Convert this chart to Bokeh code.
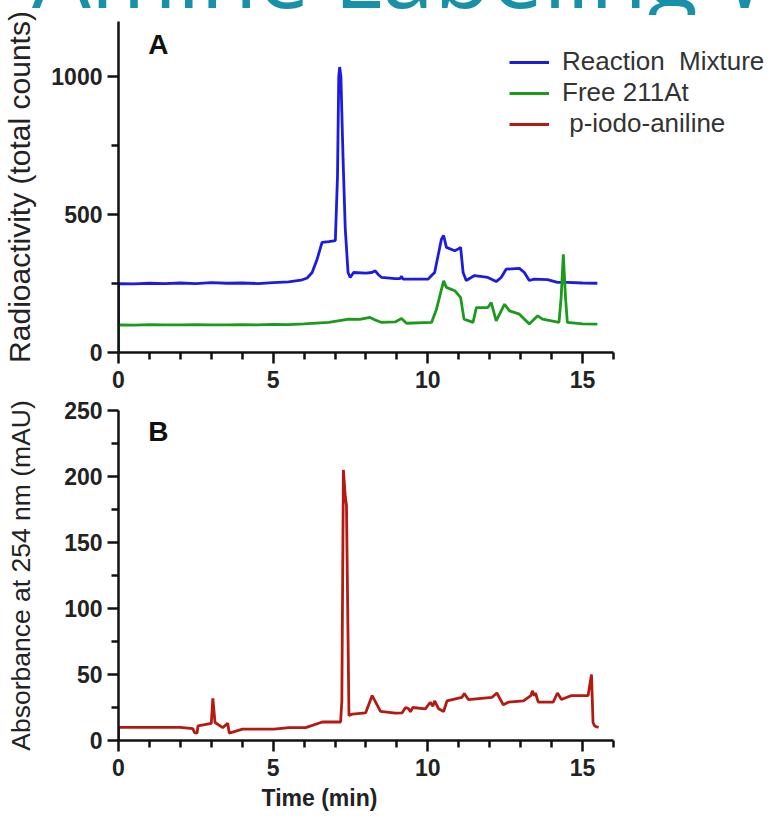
from bokeh.plotting import figure
from bokeh.layouts import column
from bokeh.models import Range1d, FixedTicker, Legend, LegendItem, Label, Div
from bokeh.embed import file_html
from bokeh.resources import INLINE

# ---------------- data ----------------
x_major = [0, 5, 10, 15]
x_minor = [1, 2, 3, 4, 6, 7, 8, 9, 11, 12, 13, 14, 16]

a_y_major = [0, 500, 1000]
a_y_minor = [250, 750]
b_y_major = [0, 50, 100, 150, 200, 250]
b_y_minor = [25, 75, 125, 175, 225]

# Panel A - Reaction Mixture (blue)
mix_time = [0, 0, 0.5, 1.0, 1.5, 2.0, 2.5, 3.0, 3.5, 4.0, 4.5, 5.0, 5.5, 5.9, 6.1,
            6.26, 6.42, 6.58, 6.8, 7.01, 7.08, 7.12, 7.15, 7.19, 7.26, 7.33, 7.42,
            7.49, 7.6, 8.0, 8.19, 8.3, 8.4, 8.51, 8.94, 9.1, 9.15, 9.2, 10.01, 10.12,
            10.22, 10.33, 10.44, 10.51, 10.6, 10.87, 10.98, 11.06, 11.14, 11.24, 11.51,
            11.94, 12.21, 12.37, 12.53, 12.96, 13.12, 13.28, 13.44, 13.87, 14.19, 14.51,
            15.0, 15.48]
mix_counts = [0, 250, 249, 251, 250, 252, 250, 253, 251, 252, 250, 253, 256, 262, 270,
              290, 338, 399, 402, 406, 641, 1000, 1035, 1000, 700, 450, 290,
              272, 290, 288, 290, 296, 282, 272, 268, 268, 276, 266, 266, 279,
              290, 351, 411, 424, 381, 369, 375, 381, 290, 261, 279,
              272, 257, 272, 302, 305, 290, 261, 266, 264, 254, 254,
              252, 251]

# Panel A - Free 211At (green)
free_time = [0, 0, 0.5, 1, 1.5, 2, 2.5, 3, 3.5, 4, 4.5, 5, 5.5, 6.0, 6.8, 7.44, 7.8,
             8.13, 8.3, 8.51, 8.94, 9.15, 9.31, 10.12, 10.28, 10.39, 10.51, 10.6,
             10.87, 11.06, 11.17, 11.46, 11.57, 11.94, 12.05, 12.21, 12.48, 12.64,
             12.96, 13.28, 13.55, 13.71, 14.24, 14.31, 14.38, 14.45, 14.51, 15.0, 15.48]
free_counts = [0, 100, 99, 101, 100, 100, 101, 100, 100, 101, 100, 102, 101, 104, 109,
               121, 120, 127, 118, 109, 111, 123, 106, 109, 157, 206, 260, 236,
               224, 199, 121, 109, 163, 163, 181, 115, 175, 151,
               139, 103, 133, 121, 109, 200, 356, 200, 109, 104, 103]

# Panel B - p-iodo-aniline (red), absorbance at 254 nm
uv_time = [0, 0, 0.5, 1, 1.5, 2, 2.4, 2.46, 2.54, 2.57, 3.0, 3.05, 3.12, 3.37, 3.53,
           3.58, 4.01, 5.02, 5.52, 6.05, 6.59, 7.18, 7.22, 7.27, 7.33, 7.37, 7.45,
           7.56, 7.99, 8.2, 8.47, 8.95, 9.17, 9.28, 9.38, 9.44, 9.51, 9.92, 10.08,
           10.16, 10.22, 10.35, 10.51, 10.62, 11.1, 11.18, 11.31, 12.07, 12.23, 12.44,
           12.6, 13.09, 13.33, 13.38, 13.44, 13.48, 13.57, 14.05, 14.19, 14.32, 14.48,
           14.64, 15.18, 15.29, 15.34, 15.39, 15.52]
uv_abs = [0, 10, 10, 10, 10, 10, 9, 6, 5.6, 11, 13, 32, 13.6, 9.8, 13,
          5.6, 8.6, 8.6, 9.8, 9.8, 14, 14, 30, 205, 185, 178, 19,
          20, 21, 34, 22, 20.7, 21, 25, 24, 21.7, 25, 24, 29,
          26, 30, 24, 22, 30, 32.6, 35.6, 31, 32.6, 36, 27,
          29, 30, 34, 37.6, 34, 36, 29, 29, 36, 31, 32.6,
          34, 34, 50, 13.6, 11, 9.8]

series_names = ["Reaction  Mixture", "Free 211At", " p-iodo-aniline"]
series_colors = ["#1c1ce0", "#1b9a1b", "#b51a12"]

title_text = "Amine Labeling With"

FONT = "Liberation Sans"
PX_PER_MIN = 498 / 16.0
NAN = float("nan")

LEFT = 114
TOTAL_W = 765
FRAME_W = TOTAL_W - LEFT
X_END = FRAME_W / PX_PER_MIN
A_TOP, A_FRAME_H, A_BOTTOM = 11, 331, 44
B_TOP, B_FRAME_H, B_BOTTOM = 14, 330, 78


def style(p, y_major, y_minor, ylabel_size, ylabel_standoff):
    p.outline_line_color = None
    p.xgrid.visible = False
    p.ygrid.visible = False
    p.background_fill_alpha = 0
    p.border_fill_alpha = 0
    p.xaxis.ticker = FixedTicker(ticks=x_major, minor_ticks=x_minor)
    p.yaxis.ticker = FixedTicker(ticks=y_major, minor_ticks=y_minor)
    p.xaxis.bounds = (0, 16)
    for ax in (p.xaxis, p.yaxis):
        ax.axis_line_width = 2.5
        ax.axis_line_color = "#111111"
        ax.major_tick_line_width = 2.5
        ax.minor_tick_line_width = 2.5
        ax.major_tick_line_color = "#111111"
        ax.minor_tick_line_color = "#111111"
        ax.major_tick_in = 0
        ax.minor_tick_in = 0
        ax.major_tick_out = 11
        ax.minor_tick_out = 7
        ax.major_label_text_font = FONT
        ax.major_label_text_font_style = "bold"
        ax.major_label_text_font_size = "23px"
        ax.major_label_text_color = "#222222"
        ax.axis_label_text_font = FONT
        ax.axis_label_text_font_style = "normal"
        ax.axis_label_text_color = "#222222"
    p.xaxis.major_label_standoff = 7
    p.yaxis.major_label_standoff = 5
    p.yaxis.axis_label_text_font_size = ylabel_size
    p.yaxis.axis_label_standoff = ylabel_standoff


# ---------------- title strip (slide heading, cut off at the top) ----------------
title_div = Div(
    text=('<div style="position:absolute;left:0px;top:-8px;width:773px;height:18px;'
          'overflow:hidden;">'
          '<div style="position:absolute;left:27px;top:-71px;font-family:\'Open Sans\';'
          'font-size:93px;line-height:93px;color:#1790a8;white-space:nowrap;">'
          + title_text + '</div></div>'),
    width=TOTAL_W, height=0,
    styles={"position": "relative", "overflow": "visible", "z-index": "10"})

# ---------------- Panel A ----------------
pa = figure(width=TOTAL_W, height=A_TOP + A_FRAME_H + A_BOTTOM,
            x_range=Range1d(0, X_END), y_range=Range1d(0, 1200),
            min_border_left=LEFT, min_border_right=0,
            min_border_top=A_TOP, min_border_bottom=A_BOTTOM,
            output_backend="svg", toolbar_location=None)
pa.yaxis.axis_label = "Radioactivity (total counts)"
style(pa, a_y_major, a_y_minor, "30px", 12)

r_mix = pa.line(mix_time, mix_counts, line_color=series_colors[0], line_width=2.8)
r_free = pa.line(free_time, free_counts, line_color=series_colors[1], line_width=2.8)
r_key = pa.line([NAN], [NAN], line_color=series_colors[2], line_width=2.8)

legend = Legend(items=[LegendItem(label=series_names[0], renderers=[r_mix]),
                       LegendItem(label=series_names[1], renderers=[r_free]),
                       LegendItem(label=series_names[2], renderers=[r_key])],
                location=(391, 213), orientation="vertical",
                glyph_width=40, glyph_height=20, label_height=27,
                label_standoff=13, spacing=0, padding=0, margin=0,
                label_text_font=FONT, label_text_font_size="26px",
                label_text_color="#333333",
                border_line_alpha=0, background_fill_alpha=0)
pa.add_layout(legend)

pa.add_layout(Label(x=1.29, y=1117, text="A", text_font=FONT,
                    text_font_style="bold", text_font_size="28px",
                    text_align="center", text_baseline="middle",
                    text_color="#111111"))

# ---------------- Panel B ----------------
pb = figure(width=TOTAL_W, height=B_TOP + B_FRAME_H + B_BOTTOM,
            x_range=Range1d(0, X_END), y_range=Range1d(0, 250),
            min_border_left=LEFT, min_border_right=0,
            min_border_top=B_TOP, min_border_bottom=B_BOTTOM,
            output_backend="svg", toolbar_location=None)
pb.yaxis.axis_label = "Absorbance at 254 nm (mAU)"
style(pb, b_y_major, b_y_minor, "26.5px", 25)

pb.line(uv_time, uv_abs, line_color=series_colors[2], line_width=2.8)

pb.add_layout(Label(x=1.29, y=234, text="B", text_font=FONT,
                    text_font_style="bold", text_font_size="28px",
                    text_align="center", text_baseline="middle",
                    text_color="#111111"))

# x-axis title, placed a little left of the axis centre as in the original
pb.title.text = "Time (min)"
pb.title_location = "below"
pb.title.align = "left"
pb.title.offset = 143
pb.title.standoff = 8
pb.title.text_font = FONT
pb.title.text_font_style = "bold"
pb.title.text_font_size = "23px"
pb.title.text_color = "#222222"

layout = column(title_div, pa, pb)
open("out.html", "w").write(file_html(layout, INLINE))
